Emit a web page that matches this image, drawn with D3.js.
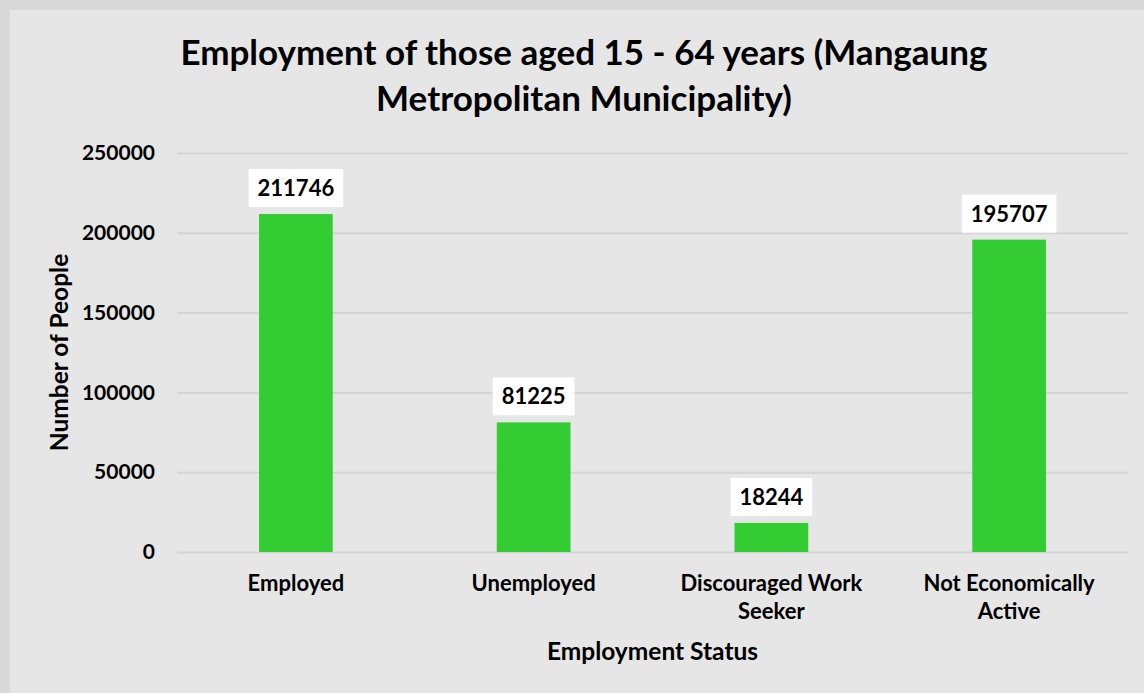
<!DOCTYPE html>
<html>
<head>
<meta charset="utf-8">
<script src="https://cdn.jsdelivr.net/npm/d3@7"></script>
<style>
  body { margin: 0; background: #d9d9d9; }
  svg text { font-family: Lato, "Open Sans", sans-serif; font-weight: bold; fill: #000; }
</style>
</head>
<body>
<script>
const width = 1144, height = 693;

const categories = ["Employed", "Unemployed", "Discouraged Work Seeker", "Not Economically Active"];
const categoryLines = [["Employed"], ["Unemployed"], ["Discouraged Work", "Seeker"], ["Not Economically", "Active"]];
const people = [211746, 81225, 18244, 195707];
const yTicks = [0, 50000, 100000, 150000, 200000, 250000];
const titleLines = ["Employment of those aged 15 - 64 years (Mangaung", "Metropolitan Municipality)"];

const margin = { top: 153, right: 16, bottom: 141, left: 177 };
const innerW = width - margin.left - margin.right;
const innerH = height - margin.top - margin.bottom;

const svg = d3.select("body").append("svg")
  .attr("width", width)
  .attr("height", height);

// chart panel
svg.append("rect")
  .attr("x", 10).attr("y", 10)
  .attr("width", width).attr("height", height)
  .attr("fill", "#e6e6e6");

// title
svg.append("text")
  .attr("text-anchor", "middle")
  .style("font-size", "35px")
  .selectAll("tspan")
  .data(titleLines)
  .join("tspan")
  .attr("x", 584)
  .attr("y", (d, i) => 65 + i * 46)
  .text(d => d);

const g = svg.append("g")
  .attr("transform", `translate(${margin.left},${margin.top})`);

const x = d3.scaleBand()
  .domain(categories)
  .range([0, innerW])
  .paddingInner(0.69)
  .paddingOuter(0.345);

const y = d3.scaleLinear()
  .domain([0, 250000])
  .range([innerH, 0]);

// gridlines + y axis labels
const yAxis = g.append("g")
  .call(d3.axisLeft(y).tickValues(yTicks).tickSize(-innerW).tickPadding(22).tickFormat(d3.format("d")));
yAxis.select(".domain").remove();
yAxis.selectAll(".tick line").attr("stroke", "#d4d4d4").attr("stroke-width", 2);
yAxis.selectAll(".tick text").style("font-size", "21px").attr("fill", "#000");

// bars
g.selectAll(".bar")
  .data(people)
  .join("rect")
  .attr("class", "bar")
  .attr("x", (d, i) => x(categories[i]))
  .attr("y", d => y(d))
  .attr("width", x.bandwidth())
  .attr("height", d => innerH - y(d))
  .attr("fill", "#33cc33");

// data labels with white boxes
const labels = g.selectAll(".lbl")
  .data(people)
  .join("g")
  .attr("class", "lbl")
  .attr("transform", (d, i) => `translate(${x(categories[i]) + x.bandwidth() / 2},${y(d) - 26})`);

labels.append("text")
  .attr("text-anchor", "middle")
  .attr("dy", "0.36em")
  .style("font-size", "22px")
  .text(d => d);

labels.each(function () {
  const t = d3.select(this).select("text");
  const w = t.node().getComputedTextLength();
  d3.select(this).insert("rect", "text")
    .attr("x", -w / 2 - 9)
    .attr("y", -19)
    .attr("width", w + 18)
    .attr("height", 38)
    .attr("fill", "#fff");
});

// category labels
g.selectAll(".cat")
  .data(categoryLines)
  .join("text")
  .attr("class", "cat")
  .attr("text-anchor", "middle")
  .style("font-size", "22px")
  .selectAll("tspan")
  .data((d, i) => d.map(s => ({ s, i })))
  .join("tspan")
  .attr("x", d => x(categories[d.i]) + x.bandwidth() / 2)
  .attr("y", (d, j) => innerH + 39 + j * 28)
  .text(d => d.s);

// axis titles
svg.append("text")
  .attr("text-anchor", "middle")
  .attr("x", margin.left + innerW / 2)
  .attr("y", 660)
  .style("font-size", "24.5px")
  .text("Employment Status");

svg.append("text")
  .attr("text-anchor", "middle")
  .attr("transform", `translate(68,${margin.top + innerH / 2}) rotate(-90)`)
  .style("font-size", "24.5px")
  .text("Number of People");
</script>
</body>
</html>
